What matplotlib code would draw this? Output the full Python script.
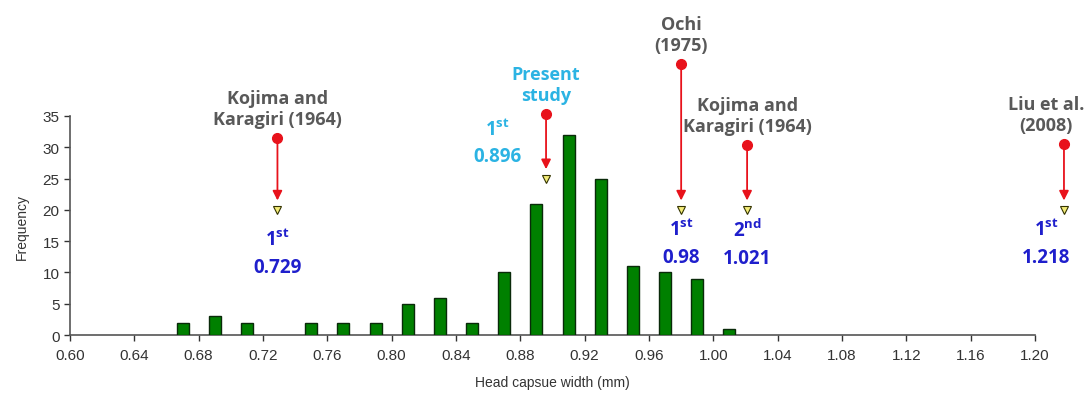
import matplotlib
matplotlib.use('Agg')
import matplotlib.pyplot as plt

# head capsule width classes (mm) and counts
widths = [0.67, 0.69, 0.71, 0.75, 0.77, 0.79, 0.81, 0.83, 0.85,
          0.87, 0.89, 0.91, 0.93, 0.95, 0.97, 0.99, 1.01]
counts = [2, 3, 2, 2, 2, 2, 5, 6, 2, 10, 21, 32, 25, 11, 10, 9, 1]

# reported first/second instar widths from the literature
ref_sources = ['Kojima and\nKaragiri (1964)', 'Present\nstudy', 'Ochi\n(1975)',
               'Kojima and\nKaragiri (1964)', 'Liu et al.\n(2008)']
ref_values = [0.729, 0.896, 0.98, 1.021, 1.218]
ref_instars = ['1', '1', '1', '2', '1']
ref_suffix = ['st', 'st', 'st', 'nd', 'st']
ref_marker_y = [20, 25, 20, 20, 20]
ref_dot_y = [31.5, 35.3, 43.3, 30.4, 30.5]
ref_label_y = [13.1, 30.8, 14.7, 14.7, 14.7]

GRAY = '#595959'
BLUE = '#1f1fcc'
CYAN = '#2bb3e3'
RED = '#e8121b'

plt.rcParams['font.family'] = ['Liberation Sans', 'DejaVu Sans']
plt.rcParams['mathtext.fontset'] = 'custom'
plt.rcParams['mathtext.rm'] = 'Open Sans'
plt.rcParams['mathtext.bf'] = 'Open Sans:bold'
plt.rcParams['mathtext.default'] = 'bf'

fig = plt.figure(figsize=(10.88, 4.02), dpi=100)
ax = fig.add_axes([0.0643, 0.164, 0.8870, 0.545])

ax.bar(widths, counts, width=0.0075, color='#008000', edgecolor='#0a2a0a',
       linewidth=1.0, zorder=3)

ax.set_xlim(0.60, 1.20)
ax.set_ylim(0, 35)
ax.set_xticks([0.60 + 0.04 * i for i in range(16)])
ax.set_xticklabels(['%.2f' % (0.60 + 0.04 * i) for i in range(16)])
ax.set_yticks(range(0, 36, 5))
ax.tick_params(labelsize=11, colors='#333333', length=4, width=1, direction='out')
ax.tick_params(axis='x', pad=5)
for side in ('top', 'right'):
    ax.spines[side].set_visible(False)
for side in ('left', 'bottom'):
    ax.spines[side].set_color('#555555')
    ax.spines[side].set_linewidth(1.2)

ax.set_xlabel('Head capsue width (mm)', fontsize=10, color='#333333', labelpad=10)
ax.set_ylabel('Frequency', fontsize=10, color='#333333', labelpad=10)

head_kw = dict(fontfamily='Open Sans', fontweight='bold', fontsize=13,
               ha='center', va='bottom', linespacing=1.2, clip_on=False)
value_kw = dict(fontfamily='Open Sans', fontweight='bold', fontsize=13.5,
                ha='center', va='center', linespacing=1.45, clip_on=False)

for i, (src, x) in enumerate(zip(ref_sources, ref_values)):
    present = src.startswith('Present')
    col = CYAN if present else BLUE
    my, dy = ref_marker_y[i], ref_dot_y[i]

    # red dot and arrow down to the reported width
    ax.annotate('', xy=(x, my + 1.5), xytext=(x, dy), annotation_clip=False,
                arrowprops=dict(arrowstyle='-|>', color=RED, lw=1.3,
                                mutation_scale=14, shrinkA=0, shrinkB=0))
    ax.plot([x], [dy], 'o', color=RED, ms=7, clip_on=False, zorder=5)
    ax.plot([x], [my], 'v', color='#f4ec78', mec='#333300', mew=0.8, ms=6,
            clip_on=False, zorder=5)

    # source heading above the dot
    hx = min(x, 1.207)
    ax.text(hx, dy + 1.6, src, color=CYAN if present else GRAY, **head_kw)

    # instar and width value
    label = '$%s^{%s}$\n%s' % (ref_instars[i], ref_suffix[i], ('%.3f' % x).rstrip('0'))
    lx = x - 0.03 if present else min(x, 1.207)
    ax.text(lx, ref_label_y[i], label, color=col, **value_kw)

fig.savefig('out.png', dpi=100)
